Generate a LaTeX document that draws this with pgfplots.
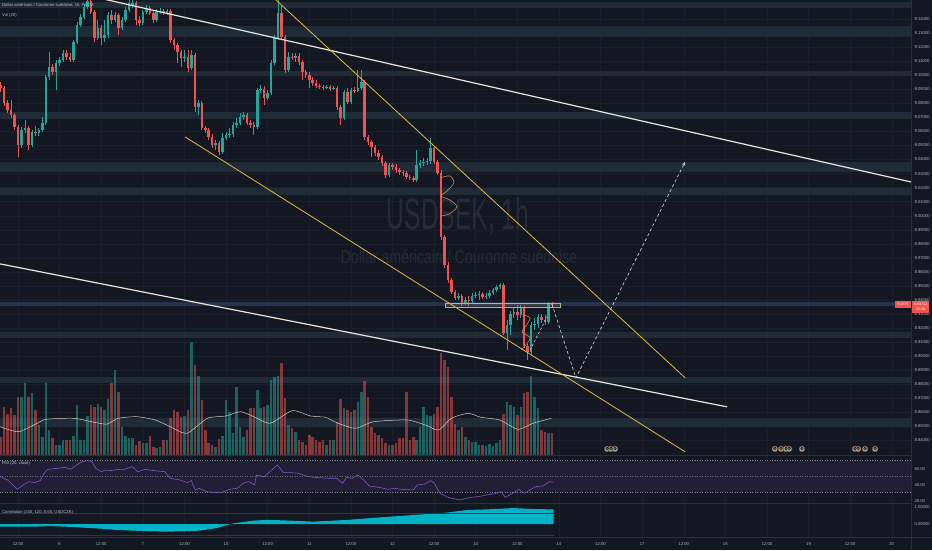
\documentclass[border=0pt]{standalone}
\usepackage{fontspec}
\setmainfont{Liberation Sans}
\usepackage{graphicx}
\usepackage{pgfplots}
\pgfplotsset{compat=1.18}
\usepackage{pgfplotstable}
\usetikzlibrary{arrows.meta}

\definecolor{bg}{RGB}{19,23,34}
\definecolor{band}{RGB}{31,43,55}
\definecolor{bandblue}{RGB}{36,52,76}
\definecolor{gridc}{RGB}{27,31,43}
\definecolor{lbl}{RGB}{178,181,190}
\definecolor{upc}{RGB}{38,166,154}
\definecolor{dnc}{RGB}{239,83,80}
\definecolor{wline}{RGB}{232,232,216}
\definecolor{yline}{RGB}{226,186,64}
\definecolor{rsic}{RGB}{126,87,194}
\definecolor{rsiband}{RGB}{33,30,54}
\definecolor{corrc}{RGB}{0,178,198}
\definecolor{redl}{RGB}{122,24,34}
\definecolor{wm}{RGB}{38,43,56}
\definecolor{sepc}{RGB}{42,46,57}
\definecolor{projc}{RGB}{200,204,214}
\definecolor{squig}{RGB}{205,135,85}
\definecolor{boxc}{RGB}{190,176,140}
\definecolor{macol}{RGB}{215,205,185}
\definecolor{iconc}{RGB}{196,140,118}
\definecolor{icond}{RGB}{70,60,60}

\pgfplotstableread{
i o h l c v
0 9.0931 9.0952 9.0881 9.0909 18
1 9.0909 9.0924 9.0781 9.0803 48
2 9.0803 9.0824 9.0731 9.0753 41
3 9.0753 9.0824 9.0696 9.0717 47
4 9.0717 9.0731 9.0610 9.0632 40
5 9.0632 9.0646 9.0418 9.0504 58
6 9.0504 9.0632 9.0482 9.0610 58
7 9.0610 9.0682 9.0589 9.0625 72
8 9.0625 9.0639 9.0468 9.0504 58
9 9.0504 9.0610 9.0489 9.0596 62
10 9.0596 9.0639 9.0568 9.0589 45
11 9.0589 9.0625 9.0568 9.0610 30
12 9.0610 9.0703 9.0596 9.0660 18
13 9.0660 9.1002 9.0646 9.0988 72
14 9.0988 9.1166 9.0966 9.1059 25
15 9.1059 9.1080 9.1002 9.1023 17
16 9.1023 9.1109 9.0895 9.1087 10
17 9.1087 9.1130 9.1066 9.1109 10
18 9.1109 9.1180 9.1095 9.1159 15
19 9.1159 9.1180 9.1109 9.1130 15
20 9.1130 9.1159 9.1095 9.1109 15
21 9.1109 9.1251 9.1095 9.1237 19
22 9.1237 9.1379 9.1223 9.1358 50
23 9.1358 9.1436 9.1344 9.1415 15
24 9.1415 9.1508 9.1401 9.1486 15
25 9.1486 9.1572 9.1472 9.1529 39
26 9.1529 9.1572 9.1436 9.1451 50
27 9.1451 9.1465 9.1237 9.1265 48
28 9.1265 9.1394 9.1251 9.1337 51
29 9.1337 9.1358 9.1216 9.1265 48
30 9.1265 9.1394 9.1237 9.1287 45
31 9.1287 9.1451 9.1265 9.1429 56
32 9.1429 9.1465 9.1365 9.1394 72
33 9.1394 9.1451 9.1379 9.1429 85
34 9.1429 9.1443 9.1287 9.1337 63
35 9.1337 9.1415 9.1322 9.1394 28
36 9.1394 9.1486 9.1379 9.1465 19
37 9.1465 9.1536 9.1451 9.1515 17
38 9.1493 9.1536 9.1479 9.1515 17
39 9.1515 9.1529 9.1358 9.1394 10
40 9.1394 9.1422 9.1351 9.1372 14
41 9.1372 9.1465 9.1358 9.1451 12
42 9.1451 9.1500 9.1436 9.1479 12
43 9.1479 9.1493 9.1429 9.1443 19
44 9.1443 9.1465 9.1372 9.1394 8
45 9.1394 9.1472 9.1379 9.1451 7
46 9.1451 9.1479 9.1436 9.1458 8
47 9.1458 9.1472 9.1429 9.1443 15
48 9.1443 9.1472 9.1429 9.1458 15
49 9.1458 9.1472 9.1230 9.1251 37
50 9.1251 9.1265 9.1180 9.1216 45
51 9.1216 9.1230 9.1087 9.1166 43
52 9.1166 9.1180 9.1059 9.1123 38
53 9.1123 9.1180 9.1095 9.1130 39
54 9.1130 9.1180 9.1023 9.1052 45
55 9.1052 9.1180 9.1038 9.1144 113
56 9.1144 9.1159 9.0739 9.0774 90
57 9.0774 9.0824 9.0717 9.0803 79
58 9.0803 9.0817 9.0610 9.0625 55
59 9.0625 9.0639 9.0589 9.0610 25
60 9.0610 9.0625 9.0539 9.0561 12
61 9.0561 9.0582 9.0482 9.0504 10
62 9.0504 9.0539 9.0468 9.0518 8
63 9.0518 9.0532 9.0432 9.0454 16
64 9.0454 9.0589 9.0440 9.0553 19
65 9.0553 9.0596 9.0539 9.0575 55
66 9.0575 9.0625 9.0553 9.0582 43
67 9.0582 9.0667 9.0561 9.0646 22
68 9.0646 9.0696 9.0625 9.0660 68
69 9.0660 9.0731 9.0646 9.0703 28
70 9.0703 9.0739 9.0682 9.0717 18
71 9.0717 9.0731 9.0646 9.0660 25
72 9.0660 9.0682 9.0625 9.0646 47
73 9.0646 9.0667 9.0575 9.0632 47
74 9.0632 9.0909 9.0617 9.0895 65
75 9.0895 9.0931 9.0874 9.0902 47
76 9.0902 9.0924 9.0788 9.0838 48
77 9.0838 9.0895 9.0824 9.0874 50
78 9.0874 9.1109 9.0860 9.1087 75
79 9.1087 9.1287 9.1073 9.1265 78
80 9.1265 9.1536 9.1251 9.1443 79
81 9.1443 9.1493 9.1251 9.1273 92
82 9.1273 9.1287 9.1016 9.1038 57
83 9.1038 9.1166 9.1023 9.1130 30
84 9.1130 9.1159 9.1109 9.1123 27
85 9.1123 9.1159 9.1095 9.1137 23
86 9.1137 9.1159 9.1073 9.1095 15
87 9.1095 9.1109 9.0966 9.1023 13
88 9.1023 9.1038 9.0981 9.1002 10
89 9.1002 9.1023 9.0909 9.0966 20
90 9.0966 9.0988 9.0924 9.0945 18
91 9.0945 9.0966 9.0909 9.0924 15
92 9.0924 9.0938 9.0902 9.0917 13
93 9.0917 9.0931 9.0895 9.0909 15
94 9.0909 9.0931 9.0902 9.0917 10
95 9.0917 9.0931 9.0888 9.0902 15
96 9.0902 9.0924 9.0895 9.0909 15
97 9.0909 9.0924 9.0753 9.0774 33
98 9.0774 9.0788 9.0646 9.0696 56
99 9.0696 9.0895 9.0682 9.0881 47
100 9.0881 9.0909 9.0796 9.0810 45
101 9.0810 9.0909 9.0796 9.0895 43
102 9.0895 9.0917 9.0874 9.0888 45
103 9.0888 9.1038 9.0881 9.0909 53
104 9.0909 9.1038 9.0895 9.0952 63
105 9.0952 9.0966 9.0539 9.0561 74
106 9.0561 9.0575 9.0504 9.0525 58
107 9.0525 9.0539 9.0418 9.0489 28
108 9.0489 9.0504 9.0425 9.0447 22
109 9.0447 9.0468 9.0397 9.0418 20
110 9.0418 9.0432 9.0354 9.0375 17
111 9.0375 9.0390 9.0269 9.0290 12
112 9.0290 9.0375 9.0276 9.0361 10
113 9.0361 9.0375 9.0326 9.0347 10
114 9.0347 9.0368 9.0304 9.0326 12
115 9.0326 9.0340 9.0290 9.0311 17
116 9.0311 9.0326 9.0283 9.0304 17
117 9.0304 9.0318 9.0261 9.0276 63
118 9.0276 9.0290 9.0254 9.0269 15
119 9.0269 9.0283 9.0240 9.0254 18
120 9.0254 9.0468 9.0240 9.0361 15
121 9.0361 9.0397 9.0340 9.0375 28
122 9.0375 9.0411 9.0354 9.0383 48
123 9.0383 9.0411 9.0361 9.0390 40
124 9.0390 9.0553 9.0368 9.0482 39
125 9.0482 9.0496 9.0368 9.0383 41
126 9.0383 9.0397 9.0290 9.0304 48
127 9.0304 9.0326 8.9827 8.9849 102
128 8.9849 8.9863 8.9628 8.9649 95
129 8.9649 8.9671 8.9521 8.9542 88
130 8.9542 8.9557 8.9443 8.9457 58
131 8.9457 8.9471 8.9400 8.9414 31
132 8.9414 8.9450 8.9400 8.9428 25
133 8.9428 8.9443 8.9357 8.9379 28
134 8.9379 8.9421 8.9364 8.9400 18
135 8.9400 8.9428 8.9357 8.9393 15
136 8.9393 8.9450 8.9379 8.9428 13
137 8.9428 8.9457 8.9414 8.9436 13
138 8.9436 8.9464 8.9400 8.9443 10
139 8.9443 8.9457 8.9407 8.9421 10
140 8.9421 8.9450 8.9407 8.9428 9
141 8.9428 8.9471 8.9414 8.9450 11
142 8.9450 8.9485 8.9436 8.9471 9
143 8.9471 8.9507 8.9457 8.9493 12
144 8.9493 8.9521 8.9478 8.9507 15
145 8.9507 8.9521 8.9151 8.9165 41
146 8.9165 8.9258 8.9044 8.9222 53
147 8.9222 8.9322 8.9151 8.9300 50
148 8.9300 8.9343 8.9272 8.9315 48
149 8.9315 8.9364 8.9258 8.9293 40
150 8.9293 8.9364 8.9272 8.9343 48
151 8.9343 8.9357 8.9058 8.9073 62
152 8.9073 8.9087 8.8973 8.9030 63
153 8.9030 8.9243 8.9016 8.9222 79
154 8.9222 8.9272 8.9186 8.9229 58
155 8.9229 8.9300 8.9201 8.9279 47
156 8.9279 8.9300 8.9236 8.9258 25
157 8.9258 8.9293 8.9222 8.9243 23
158 8.9243 8.9386 8.9229 8.9371 22
159 8.9371 8.9386 8.9350 8.9364 22
}\candles

\pgfplotsset{
  pane/.style={scale only axis, width=911pt, xmin=-0.202, xmax=262.56,
    enlargelimits=false, clip=true, axis line style={draw=none},
    major tick length=0pt, xtick={5,17,...,257}, xticklabels={},
    grid style={gridc, line width=0.4pt},
    tick label style={font=\fontsize{4.2}{5}\selectfont, text=lbl},
    colormap={ud}{rgb255(0cm)=(239,83,80); rgb255(1cm)=(38,166,154)},
    point meta min=0, point meta max=1, anchor=south west},
}

\begin{document}
\begin{tikzpicture}[x=1pt,y=1pt]
\fill[bg] (0,0) rectangle (932,550);
\useasboundingbox (0,0) rectangle (932,550);

% ---------- main pane base (grid, zones, price scale)
\begin{axis}[pane, at={(0pt,95pt)}, height=455pt,
  ymin=8.8296, ymax=9.1536, xmajorgrids, ymajorgrids,
  ytick={8.84,8.85,8.86,8.87,8.88,8.89,8.90,8.91,8.92,8.93,8.94,8.95,8.96,8.97,8.98,8.99,9.00,9.01,9.02,9.03,9.04,9.05,9.06,9.07,9.08,9.09,9.10,9.11,9.12,9.13,9.14},
  yticklabels={8.84000,8.85000,8.86000,8.87000,8.88000,8.89000,8.90000,8.91000,8.92000,8.93000,8.94000,8.95000,8.96000,8.97000,8.98000,8.99000,9.00000,9.01000,9.02000,9.03000,9.04000,9.05000,9.06000,9.07000,9.08000,9.09000,9.10000,9.11000,9.12000,9.13000,9.14000},
  yticklabel pos=right]
\addplot[fill=band, draw=none] coordinates {(-1,9.1477) (264,9.1477) (264,9.1524) (-1,9.1524)};
\addplot[fill=band, draw=none] coordinates {(-1,9.1275) (264,9.1275) (264,9.1351) (-1,9.1351)};
\addplot[fill=band, draw=none] coordinates {(-1,9.0995) (264,9.0995) (264,9.1033) (-1,9.1033)};
\addplot[fill=band, draw=none] coordinates {(-1,9.0687) (264,9.0687) (264,9.0737) (-1,9.0737)};
\addplot[fill=band, draw=none] coordinates {(-1,9.0314) (264,9.0314) (264,9.0381) (-1,9.0381)};
\addplot[fill=band, draw=none] coordinates {(-1,9.0148) (264,9.0148) (264,9.0200) (-1,9.0200)};
\addplot[fill=bandblue, draw=none] coordinates {(-1,8.9360) (264,8.9360) (264,8.9389) (-1,8.9389)};
\addplot[fill=band, draw=none] coordinates {(-1,8.9132) (264,8.9132) (264,8.9171) (-1,8.9171)};
\addplot[fill=band, draw=none] coordinates {(-1,8.8808) (264,8.8808) (264,8.8848) (-1,8.8848)};
\addplot[fill=band, draw=none] coordinates {(-1,8.8492) (264,8.8492) (264,8.8559) (-1,8.8559)};
\end{axis}

% ---------- watermark
\node[anchor=base, text=wm, font=\fontsize{44}{44}\selectfont] at (458,320) {\scalebox{0.56}[1]{USDSEK, 1h}};
\node[anchor=base, text=wm, font=\fontsize{18.6}{20}\selectfont] at (459,287) {\scalebox{0.76}[1]{Dollar américain / Couronne suédoise}};

% ---------- volume overlay
\begin{axis}[pane, at={(0pt,95pt)}, height=120pt,
  ymin=0, ymax=120, xtick=\empty, ytick=\empty]
\addplot[quiver={u=0, v=\thisrow{v}, colored=mapped color,
   every arrow/.append style={line width=2.5pt, opacity=0.52}},
   point meta={\thisrow{c}>\thisrow{o}}] table[x=i, y expr=0] {\candles};
\addplot[macol, line width=0.5pt, smooth, tension=0.4] coordinates {
(-0.2,28.3)(5.1,23.3)(10.5,31.7)(13.1,35.7)(21.1,36.7)(27.5,32.3)(30.7,31)(33.9,36.7)(39.3,38.3)(44.6,35)(48.9,28.3)(53.7,21.7)(59.6,36.7)(64.9,39)(69.2,43.3)(73.4,37.7)(77.7,31.7)(84.1,44.3)(89.4,39)(93.7,37.7)(96.9,32.3)(102.3,26.7)(107.6,33.3)(117.2,35)(122.5,30)(126.3,25)(130,36.7)(134.8,41.7)(138.5,37.7)(143.9,35)(149.2,25.7)(153.5,31.7)(158.8,36.7)};
\end{axis}

% ---------- candles and drawings
\begin{axis}[pane, at={(0pt,95pt)}, height=455pt,
  ymin=8.8296, ymax=9.1536, xtick=\empty, ytick=\empty]
\addplot[quiver={u=0, v=\thisrow{h}-\thisrow{l}, colored=mapped color,
   every arrow/.append style={line width=0.7pt}},
   point meta={\thisrow{c}>\thisrow{o}}] table[x=i, y=l] {\candles};
\addplot[quiver={u=0, v=\thisrow{c}-\thisrow{o}, colored=mapped color,
   every arrow/.append style={line width=2.5pt}},
   point meta={\thisrow{c}>\thisrow{o}}] table[x=i, y=o] {\candles};
% trend lines
\addplot[wline, line width=1.2pt] coordinates {(25,9.1569) (262.6,9.0240)};
\addplot[wline, line width=1.2pt] coordinates {(-0.2,8.9657) (209.5,8.8639)};
\addplot[yline, line width=0.8pt] coordinates {(77,9.1591) (197.4,8.8846)};
\addplot[yline, line width=0.8pt] coordinates {(53.2,9.0561) (197.4,8.8319)};
% rectangle tool
\addplot[boxc, line width=0.6pt, fill=boxc, fill opacity=0.12] coordinates {(128.2,8.9348) (161.3,8.9348) (161.3,8.9377) (128.2,8.9377) (128.2,8.9348)};
% hand-drawn squiggles
\addplot[squig, line width=0.6pt, smooth] coordinates {(126.7,9.0269) (129.6,9.0283) (130.7,9.0233) (128.4,9.0169) (127.0,9.0140) (129.6,9.0112) (131.6,9.0062) (129.3,9.0012) (127.0,8.9998)};
\addplot[squig, line width=0.6pt, smooth] coordinates {(150.7,8.9293) (152.7,8.9272) (151.5,8.9215) (150.4,8.9172) (152.7,8.9130) (151.2,8.9073) (150.1,8.9044)};
% projections
\addplot[projc, line width=0.6pt, dash pattern=on 2.5pt off 2pt] coordinates {(152.7,8.9044) (157.6,8.9279)};
\addplot[projc, line width=0.7pt, dash pattern=on 3pt off 2.5pt, -{Stealth[length=4pt,width=3pt]}] coordinates {(159,8.9371) (165.9,8.8845) (197.4,9.0383)};
% event icons
\addplot[only marks, mark=*, mark size=3pt, mark options={fill=iconc, draw=icond, line width=0.3pt}] coordinates {(174.9,8.8339) (176.0,8.8339) (177.2,8.8339) (223.3,8.8339) (225.1,8.8339) (226.5,8.8339) (227.4,8.8339) (231.1,8.8339) (246.4,8.8339) (247.3,8.8339) (249.3,8.8339) (252.2,8.8339)};
\addplot[only marks, mark=*, mark size=1.3pt, mark options={fill=upc, draw=none}] coordinates {(174.9,8.8343) (176.0,8.8343) (177.2,8.8343) (223.3,8.8343) (225.1,8.8343) (226.5,8.8343) (227.4,8.8343) (231.1,8.8343) (246.4,8.8343) (247.3,8.8343) (249.3,8.8343) (252.2,8.8343)};
\end{axis}

% ---------- RSI pane
\begin{axis}[pane, at={(0pt,46.5pt)}, height=48.5pt,
  ymin=16.5, ymax=77.1, xmajorgrids, ytick={20,40,60},
  yticklabels={20.00,40.00,60.00}, yticklabel pos=right]
\addplot[fill=rsiband, draw=none] coordinates {(-1,30) (264,30) (264,70) (-1,70)};
\addplot[lbl!70!bg, line width=0.5pt, dash pattern=on 1pt off 1.5pt] coordinates {(-1,70) (264,70)};
\addplot[lbl!55!bg, line width=0.5pt, dash pattern=on 1pt off 1.5pt] coordinates {(-1,50) (264,50)};
\addplot[lbl!70!bg, line width=0.5pt, dash pattern=on 1pt off 1.5pt] coordinates {(-1,30) (264,30)};
\addplot[rsic, line width=0.6pt] coordinates {
(-0.2,50.1)(2.0,45.9)(4.8,34.2)(6.4,39.6)(8.1,43.8)(9.7,42.6)(11.4,45.1)(12.5,54.2)(13.6,59.2)(16.4,60.5)(18.6,61.7)(20.2,59.2)(21.9,64.7)(23.5,68.8)(25.2,70.1)(26.3,68.8)(27.4,60.5)(29.1,56.3)(30.2,58.4)(31.8,57.6)(34.0,59.2)(35.1,58.4)(37.9,62.6)(39.5,56.3)(41.7,59.2)(44.0,57.6)(47.3,56.3)(48.9,48.0)(51.7,45.9)(53.9,42.6)(55.0,45.1)(56.1,33.4)(57.2,35.5)(59.4,31.3)(61.6,30.1)(63.8,30.5)(66.0,34.2)(68.2,35.5)(69.9,41.7)(71.6,43.8)(73.2,39.6)(73.8,52.1)(76.0,50.1)(78.2,58.4)(79.8,64.7)(81.5,55.1)(83.7,55.1)(85.9,54.2)(88.1,50.9)(90.3,49.2)(94.7,48.0)(96.9,48.0)(98.6,41.7)(99.7,49.2)(101.4,48.0)(103.0,52.1)(104.7,45.9)(106.3,38.4)(109.1,36.7)(111.8,34.2)(113.5,35.5)(115.7,34.2)(119.0,33.4)(120.1,39.6)(122.3,40.9)(124.0,45.1)(125.1,41.7)(126.7,29.2)(129.0,24.2)(132.3,20.9)(135.6,24.2)(137.8,25.1)(140.0,27.1)(142.2,28.4)(144.4,31.3)(145.5,24.2)(147.7,29.2)(149.4,34.2)(151.0,29.2)(152.7,33.4)(154.3,37.6)(156.5,38.4)(158.2,43.8)(159.3,43.0)};
\end{axis}

% ---------- Correlation pane
\begin{axis}[pane, at={(0pt,13pt)}, height=33.5pt,
  ymin=-0.765, ymax=1.206, xmajorgrids, ytick={0,1},
  yticklabels={0.00000,1.00000}, yticklabel pos=right,
  xticklabels={12:00,6,12:00,7,12:00,10,12:00,11,12:00,12,12:00,13,12:00,14,12:00,17,12:00,18,12:00,19,12:00,20},
  xticklabel style={yshift=-2.5pt}]
\addplot[fill=corrc, draw=none] coordinates {
(-0.2,0) (-0.2,-0.16) (9.4,-0.16) (14.2,-0.12) (19,-0.16) (28.6,-0.27) (33.5,-0.35) (38.2,-0.39) (43.1,-0.43) (47.9,-0.45) (52.7,-0.43) (57.5,-0.39) (62.3,-0.24) (65.2,-0.06) (67.1,0.04) (70,0.12) (72.9,0.2) (76.7,0.24) (80.6,0.22) (83.4,0.2) (90.2,0.14) (99.8,0.24) (109.4,0.39) (119,0.53) (128.6,0.67) (134.4,0.82) (140.2,0.86) (147.8,0.94) (153.6,0.88) (159.5,0.86) (159.5,0)};
\addplot[redl, line width=0.8pt] coordinates {(-0.2,0.65) (159.5,0.65)};
\addplot[redl, line width=0.8pt] coordinates {(-0.2,-0.65) (159.5,-0.65)};
\end{axis}

% ---------- separators
\draw[sepc, line width=0.8pt] (0,95) -- (911,95);
\draw[sepc, line width=0.8pt] (0,46.5) -- (911,46.5);
\draw[sepc, line width=0.6pt] (911,0) -- (911,550);
\draw[sepc, line width=0.6pt] (0,13) -- (932,13);

% ---------- labels
\node[anchor=west, text=lbl!90!white, font=\fontsize{4.2}{5}\selectfont, inner sep=0pt] at (2,544.5) {Dollar américain / Couronne suédoise, 1h, FXCM};
\node[anchor=west, text=lbl!90!white, font=\fontsize{4.2}{5}\selectfont, inner sep=0pt] at (2,535) {Vol (20)};
\node[anchor=west, text=lbl!90!white, font=\fontsize{4.2}{5}\selectfont, inner sep=0pt] at (2,87) {RSI (20, close)};
\node[anchor=west, text=lbl!90!white, font=\fontsize{4.2}{5}\selectfont, inner sep=0pt] at (2,37.5) {Correlation (240, 120, 0.65, USDCZK)};

% ---------- last price tags
\fill[dnc] (895,242.3) rectangle (911,249.3);
\node[text=white, font=\fontsize{3.6}{4}\selectfont, inner sep=0pt] at (903,245.8) {8.9375};
\fill[dnc] (912,236.7) rectangle (929,249.3);
\node[text=white, font=\fontsize{3.6}{4}\selectfont, inner sep=0pt] at (920.5,246) {8.93712};
\node[text=white, font=\fontsize{3.6}{4}\selectfont, inner sep=0pt] at (920.5,240.5) {25:18};
\end{tikzpicture}
\end{document}
